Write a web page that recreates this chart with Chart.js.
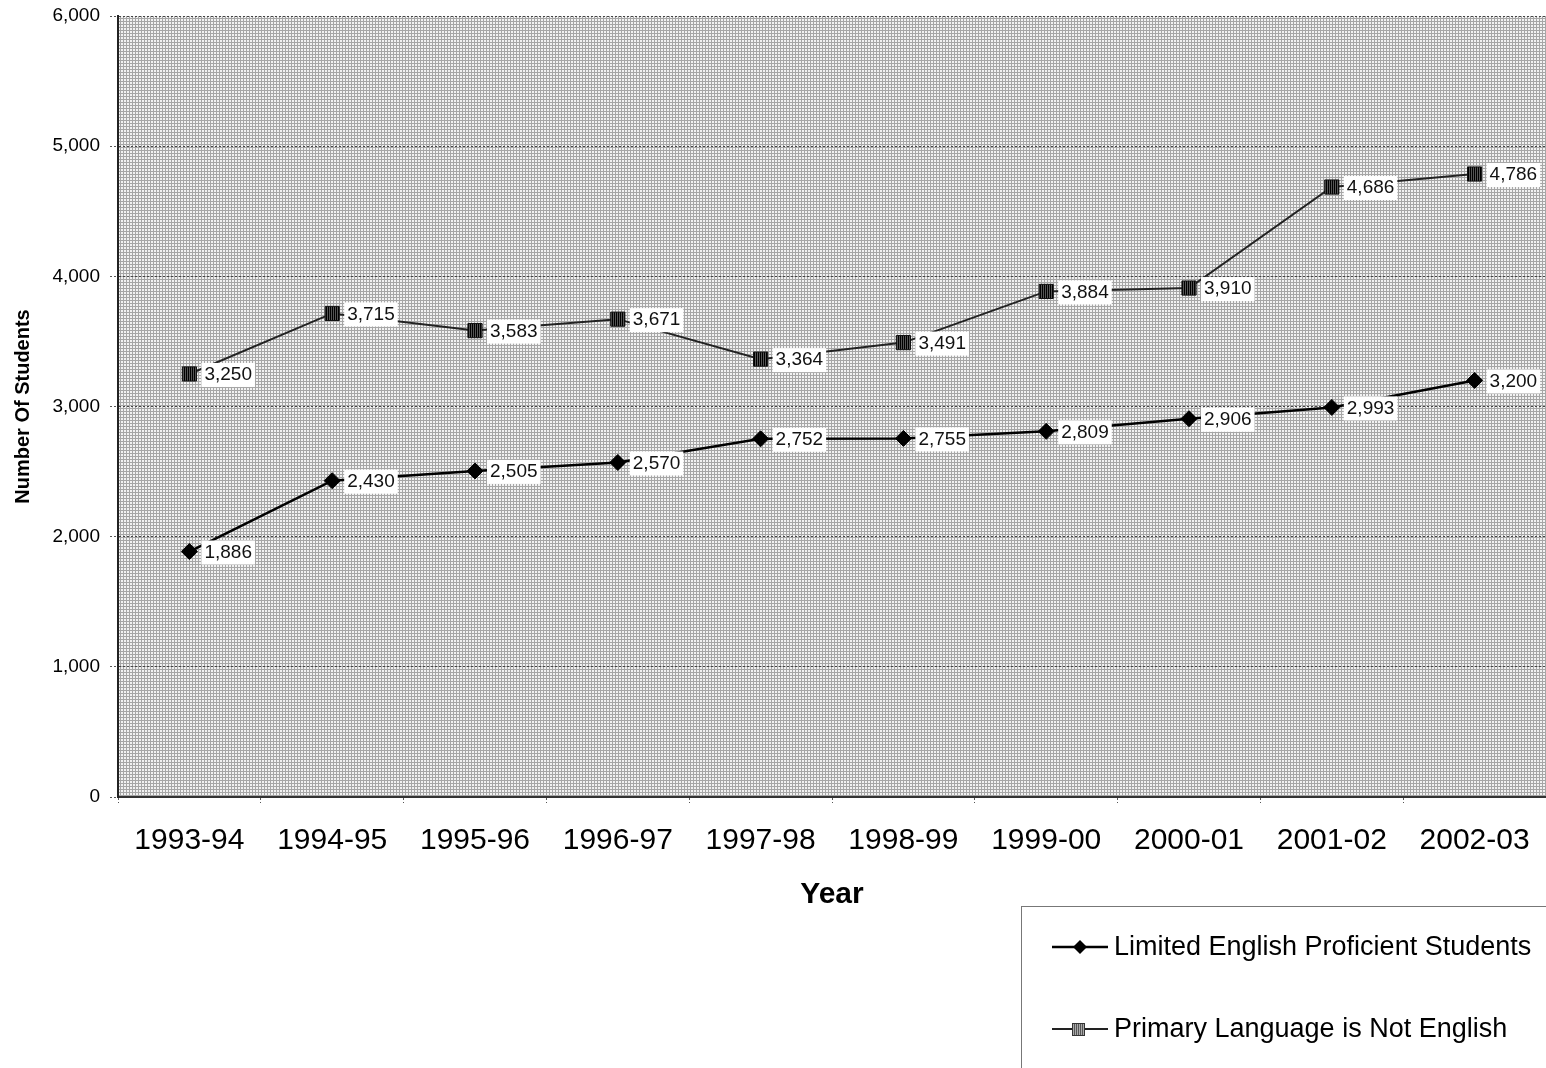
<!DOCTYPE html>
<html>
<head>
<meta charset="utf-8">
<script src="https://cdn.jsdelivr.net/npm/chart.js@4.4.0/dist/chart.umd.min.js"></script>
<style>
  html, body { margin: 0; padding: 0; background: #ffffff; }
  #wrap { width: 1546px; height: 1068px; position: relative; }
</style>
</head>
<body>
<div id="wrap"><canvas id="c" width="1546" height="1068"></canvas></div>
<script>
const years = ['1993-94','1994-95','1995-96','1996-97','1997-98','1998-99','1999-00','2000-01','2001-02','2002-03'];
const lepStudents = [1886, 2430, 2505, 2570, 2752, 2755, 2809, 2906, 2993, 3200];
const notEnglish = [3250, 3715, 3583, 3671, 3364, 3491, 3884, 3910, 4686, 4786];
const seriesNames = ['Limited English Proficient Students', 'Primary Language is Not English'];
const yTitle = 'Number Of Students';
const xTitle = 'Year';

const FONT = "'Liberation Sans', Arial, Helvetica, sans-serif";
const canvasEl = document.getElementById('c');
const ctx0 = canvasEl.getContext('2d');

function makeBgPattern(ctx) {
  const p = document.createElement('canvas');
  p.width = 3; p.height = 3;
  const g = p.getContext('2d');
  g.fillStyle = '#f2f2f2'; g.fillRect(0, 0, 3, 3);
  g.fillStyle = '#a6a6a6'; g.fillRect(0, 0, 3, 1); g.fillRect(0, 0, 1, 3);
  return ctx.createPattern(p, 'repeat');
}
function makeStripePattern(ctx, dark, light) {
  const p = document.createElement('canvas');
  p.width = 2; p.height = 2;
  const g = p.getContext('2d');
  g.fillStyle = light; g.fillRect(0, 0, 2, 2);
  g.fillStyle = dark; g.fillRect(0, 0, 1, 2);
  return ctx.createPattern(p, 'repeat');
}
const squareFill = makeStripePattern(ctx0, '#000000', '#555555');
const legendSquareFill = makeStripePattern(ctx0, '#555555', '#aaaaaa');

const bgPlugin = {
  id: 'plotBg',
  beforeDraw(chart) {
    const {ctx, chartArea: a} = chart;
    ctx.save();
    ctx.fillStyle = makeBgPattern(ctx);
    ctx.fillRect(a.left, a.top, a.right - a.left, a.bottom - a.top);
    ctx.restore();
  }
};

const labelPlugin = {
  id: 'valueLabels',
  afterDatasetsDraw(chart) {
    const ctx = chart.ctx;
    ctx.save();
    ctx.font = '19px ' + FONT;
    ctx.textBaseline = 'middle';
    chart.data.datasets.forEach((ds, di) => {
      const meta = chart.getDatasetMeta(di);
      meta.data.forEach((pt, i) => {
        const txt = ds.data[i].toLocaleString('en-US');
        const w = ctx.measureText(txt).width;
        const bx = pt.x + 12, by = pt.y - 11;
        ctx.fillStyle = '#ffffff';
        ctx.fillRect(bx, by, w + 6, 24);
        ctx.fillStyle = '#111111';
        ctx.fillText(txt, bx + 3, pt.y + 1);
      });
    });
    ctx.restore();
  }
};

const legendPlugin = {
  id: 'customLegend',
  afterDraw(chart) {
    const ctx = chart.ctx;
    ctx.save();
    const x0 = 1021, y0 = 906, x1 = 1546, y1 = 1068;
    ctx.fillStyle = '#ffffff';
    ctx.fillRect(x0, y0, x1 - x0, y1 - y0);
    ctx.strokeStyle = '#777777';
    ctx.lineWidth = 1;
    ctx.strokeRect(x0 + 0.5, y0 + 0.5, x1 - x0, y1 - y0);
    const rows = [947, 1029];
    chart.data.datasets.forEach((ds, i) => {
      const y = rows[i];
      ctx.strokeStyle = ds.borderColor;
      ctx.lineWidth = ds.borderWidth;
      ctx.beginPath(); ctx.moveTo(1052, y); ctx.lineTo(1108, y); ctx.stroke();
      if (i === 0) {
        ctx.fillStyle = '#000';
        ctx.beginPath();
        ctx.moveTo(1080, y - 7); ctx.lineTo(1087, y); ctx.lineTo(1080, y + 7); ctx.lineTo(1073, y);
        ctx.closePath(); ctx.fill();
      } else {
        ctx.fillStyle = legendSquareFill;
        ctx.fillRect(1072, y - 6, 13, 13);
        ctx.strokeStyle = '#333'; ctx.lineWidth = 1;
        ctx.strokeRect(1072.5, y - 5.5, 12, 12);
      }
      ctx.fillStyle = '#000';
      ctx.font = '27px ' + FONT;
      ctx.textBaseline = 'middle';
      ctx.fillText(ds.label, 1114, y + 1);
    });
    ctx.restore();
  }
};

new Chart(canvasEl, {
  type: 'line',
  data: {
    labels: years,
    datasets: [
      {
        label: seriesNames[0],
        data: lepStudents,
        borderColor: '#000000',
        borderWidth: 2.5,
        pointStyle: 'rectRot',
        pointRadius: 8,
        pointBackgroundColor: '#000000',
        pointBorderColor: '#000000',
        pointBorderWidth: 1,
        tension: 0
      },
      {
        label: seriesNames[1],
        data: notEnglish,
        borderColor: '#222222',
        borderWidth: 2,
        pointStyle: 'rect',
        pointRadius: 10,
        pointBackgroundColor: squareFill,
        pointBorderColor: '#111111',
        pointBorderWidth: 1,
        tension: 0
      }
    ]
  },
  options: {
    responsive: false,
    animation: false,
    devicePixelRatio: 1,
    layout: { autoPadding: false, padding: { top: 16, left: 0, right: 0, bottom: 0 } },
    plugins: { legend: { display: false }, tooltip: { enabled: false } },
    scales: {
      x: {
        type: 'category',
        offset: true,
        grid: { offset: true, drawOnChartArea: false, drawTicks: true, tickLength: 6, color: '#555', tickBorderDash: [2, 2] },
        border: { display: true, color: '#333', width: 2 },
        ticks: { color: '#000', font: { family: FONT, size: 30 }, padding: 20, maxRotation: 0, autoSkip: false },
        title: { display: true, text: xTitle, color: '#000', font: { family: FONT, size: 30, weight: 'bold' }, padding: { top: 0, bottom: 155 } },
        afterFit(scale) { scale.height = 271; scale.paddingLeft = 0; scale.paddingRight = 0; }
      },
      y: {
        min: 0, max: 6000,
        ticks: { stepSize: 1000, color: '#000', font: { family: FONT, size: 19 }, padding: 10,
                 callback: v => v.toLocaleString('en-US') },
        grid: { color: '#444', lineWidth: 1, drawTicks: true, tickLength: 8, tickColor: '#555', tickBorderDash: [2, 2] },
        border: { display: true, color: '#222', width: 2, dash: [2, 2] },
        title: { display: true, text: yTitle, color: '#000', font: { family: FONT, size: 20, weight: 'bold' }, padding: { top: 11, bottom: 0 } },
        afterFit(scale) { scale.width = 118; scale.paddingTop = 0; scale.paddingBottom = 0; }
      }
    }
  },
  plugins: [bgPlugin, labelPlugin, legendPlugin]
});
</script>
</body>
</html>
